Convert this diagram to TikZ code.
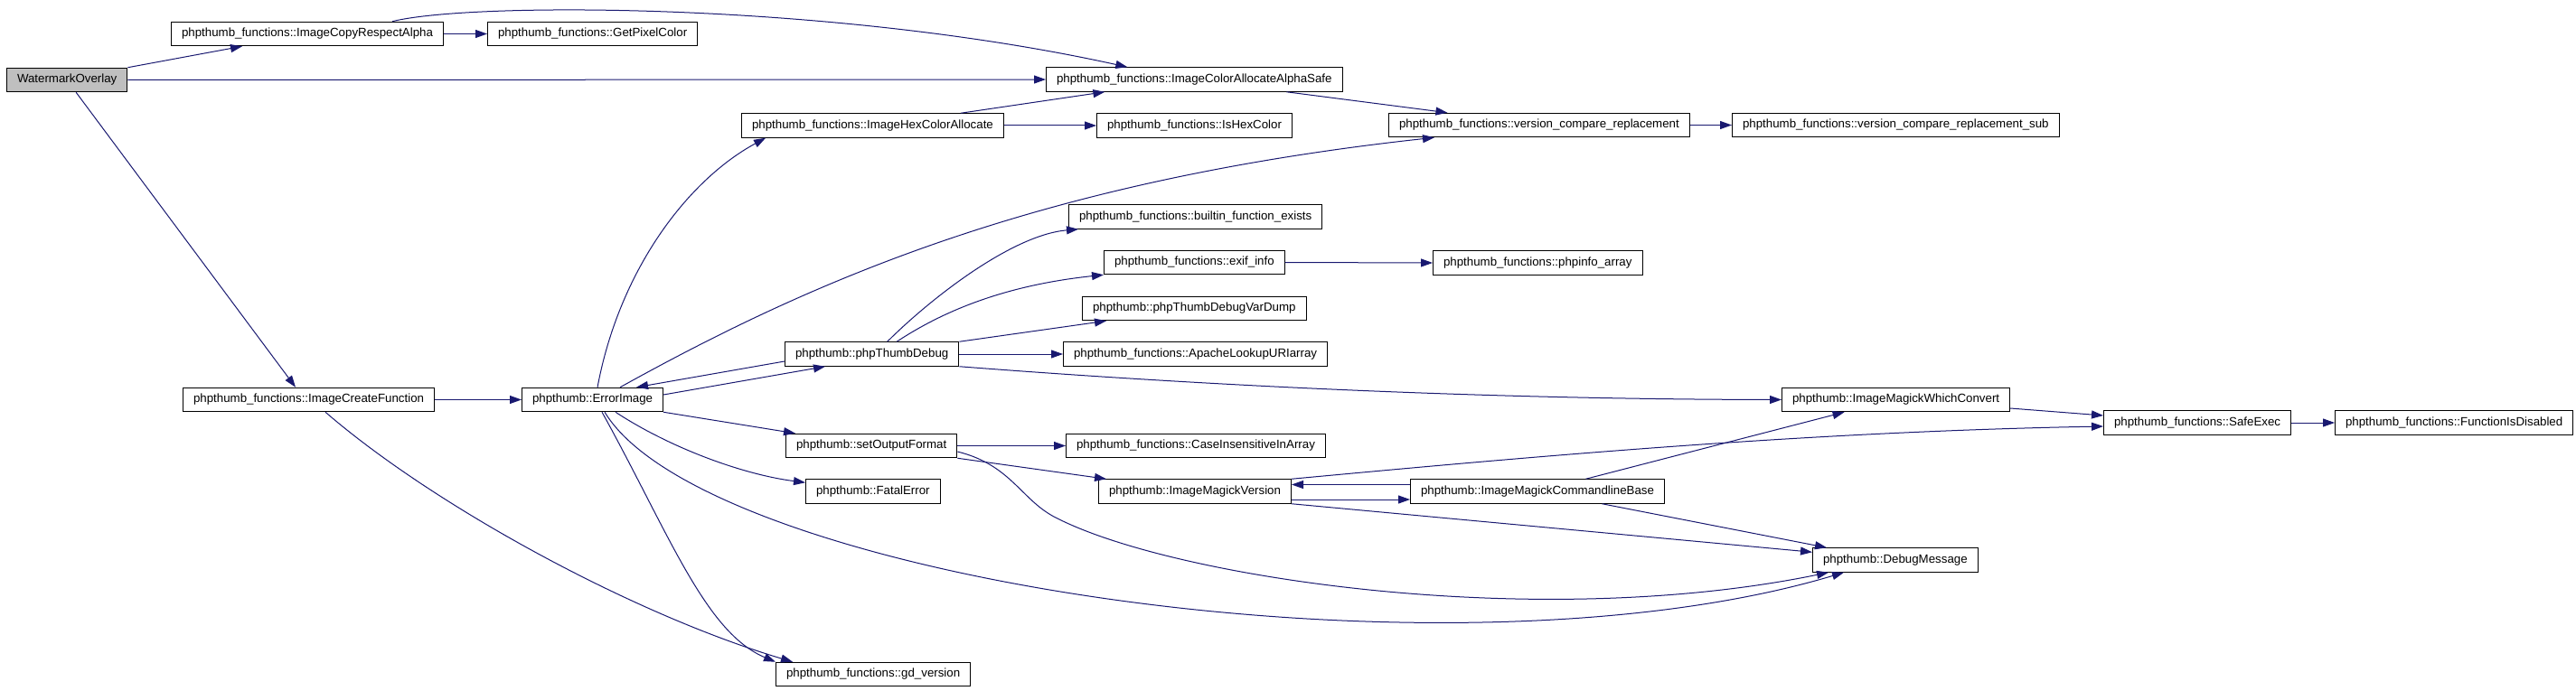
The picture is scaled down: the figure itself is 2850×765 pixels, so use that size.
\documentclass[tikz,border=0pt]{standalone}
\usepackage{fontspec}
\setmainfont{Liberation Sans}
\usetikzlibrary{arrows.meta}
\definecolor{navy}{HTML}{191970}
\definecolor{litgray}{HTML}{BFBFBF}

\begin{document}
\begin{tikzpicture}[x=1pt, y=-1pt, >={Triangle[length=13pt, width=9pt]},
  fn/.style={draw=black, line width=1pt, fill=white, anchor=west, inner xsep=11.5pt,
    inner ysep=0pt, minimum height=26.5pt, font=\fontsize{13.3}{16}\selectfont},
  call/.style={navy, line width=1pt, ->}]

\useasboundingbox (0,0) rectangle (2850,765);

% Functions
\node[fn, fill=litgray] (wo) at (7,88.5) {WatermarkOverlay};
\node[fn] (icra) at (189,37.5) {phpthumb\_functions::ImageCopyRespectAlpha};
\node[fn] (gpc) at (539,37.5) {phpthumb\_functions::GetPixelColor};
\node[fn] (icaas) at (1157,88) {phpthumb\_functions::ImageColorAllocateAlphaSafe};
\node[fn] (ihca) at (820,139) {phpthumb\_functions::ImageHexColorAllocate};
\node[fn] (ihc) at (1213,139) {phpthumb\_functions::IsHexColor};
\node[fn] (vcr) at (1536,138.5) {phpthumb\_functions::version\_compare\_replacement};
\node[fn] (vcrs) at (1916,138.5) {phpthumb\_functions::version\_compare\_replacement\_sub};
\node[fn] (bfe) at (1182,240) {phpthumb\_functions::builtin\_function\_exists};
\node[fn] (exif) at (1221,290.5) {phpthumb\_functions::exif\_info};
\node[fn] (pia) at (1585,291) {phpthumb\_functions::phpinfo\_array};
\node[fn] (vd) at (1197,341.5) {phpthumb::phpThumbDebugVarDump};
\node[fn] (ptd) at (868,392) {phpthumb::phpThumbDebug};
\node[fn] (alu) at (1176,392) {phpthumb\_functions::ApacheLookupURIarray};
\node[fn] (icf) at (202,442.5) {phpthumb\_functions::ImageCreateFunction};
\node[fn] (ei) at (577,442.5) {phpthumb::ErrorImage};
\node[fn] (imwc) at (1971,442.5) {phpthumb::ImageMagickWhichConvert};
\node[fn] (se) at (2327,468) {phpthumb\_functions::SafeExec};
\node[fn] (fid) at (2583,468) {phpthumb\_functions::FunctionIsDisabled};
\node[fn] (sof) at (869,493.5) {phpthumb::setOutputFormat};
\node[fn] (ciia) at (1179,493.5) {phpthumb\_functions::CaseInsensitiveInArray};
\node[fn] (fe) at (891,544) {phpthumb::FatalError};
\node[fn] (imv) at (1215,544) {phpthumb::ImageMagickVersion};
\node[fn] (imcb) at (1560,544) {phpthumb::ImageMagickCommandlineBase};
\node[fn] (dm) at (2005,620) {phpthumb::DebugMessage};
\node[fn] (gd) at (858,746.5) {phpthumb\_functions::gd\_version};

% Calls from WatermarkOverlay
\draw[call] (wo.north east) -- ([xshift=79pt]icra.south west);
\draw[call] (wo.east) -- (icaas.west);
\draw[call] ([xshift=10pt]wo.south) -- ([xshift=-14.5pt]icf.north);

% Top rows
\draw[call] (icra.east) -- (gpc.west);
\draw[call] ([xshift=94pt]icra.north) .. controls (520,2) and (920,2) .. ([xshift=-74pt]icaas.north);
\draw[call] ([xshift=102pt]icaas.south) -- ([xshift=-101.5pt]vcr.north);
\draw[call] ([xshift=97.5pt]ihca.north) -- ([xshift=-99pt]icaas.south);
\draw[call] (ihca.east) -- (ihc.west);
\draw[call] (vcr.east) -- (vcrs.west);

% ErrorImage
\draw[call] (icf.east) -- (ei.west);
\draw[call] ([xshift=5.5pt]ei.north) .. controls (685,300) and (760,200) .. ([xshift=27pt]ihca.south west);
\draw[call] ([xshift=30.5pt]ei.north) .. controls (900,310) and (1150,200) .. ([xshift=51pt]vcr.south west);
\draw[call] ([yshift=-8pt]ptd.west) -- ([xshift=48.5pt]ei.north);
\draw[call] ([yshift=5.5pt]ei.east) -- ([xshift=45pt]ptd.south west);
\draw[call] (ei.south east) -- ([xshift=11pt]sof.north west);
\draw[call] ([xshift=25.5pt]ei.south) .. controls (740,495) and (820,525) .. ([yshift=-4pt]fe.north west);
\draw[call] ([xshift=10.5pt]ei.south) .. controls (740,590) and (780,700) .. (gd.north west);
\draw[call] ([xshift=18.5pt]icf.south) .. controls (480,560) and (700,680) .. ([xshift=19pt]gd.north west);
\draw[call] ([xshift=13.5pt]ei.south) .. controls (780,640) and (1600,765) .. ([xshift=35pt]dm.south west);

% phpThumbDebug
\draw[call] ([xshift=17pt]ptd.north) .. controls (1030,330) and (1120,260) .. ([xshift=11pt]bfe.south west);
\draw[call] ([xshift=27.5pt]ptd.north) .. controls (1050,340) and (1120,315) .. (exif.south west);
\draw[call] (ptd.north east) -- ([xshift=27pt]vd.south west);
\draw[call] (ptd.east) -- (alu.west);
\draw[call] (ptd.south east) .. controls (1400,432) and (1700,442) .. (imwc.west);
\draw[call] (exif.east) -- (pia.west);

% setOutputFormat
\draw[call] (sof.east) -- (ciia.west);
\draw[call] (sof.south east) -- ([xshift=9pt]imv.north west);
\draw[call] ([yshift=-6.5pt]sof.east) .. controls (1120,515) and (1130,555) .. (1170,574)
  .. controls (1300,640) and (1700,700) .. ([xshift=18pt]dm.south west);

% ImageMagick
\draw[call] ([yshift=-9pt]imv.east) -- ([yshift=-9pt]imcb.west);
\draw[call] ([yshift=7.5pt]imcb.west) -- ([yshift=7.5pt]imv.east);
\draw[call] (imv.north east) .. controls (1700,505) and (2000,478) .. ([yshift=-4pt]se.west);
\draw[call] (imv.south east) -- ([yshift=-5pt]dm.north west);
\draw[call] ([xshift=53.5pt]imcb.north) -- ([xshift=-57pt]imwc.south);
\draw[call] ([xshift=71.5pt]imcb.south) -- ([xshift=16pt]dm.north west);
\draw[call] ([yshift=-9.5pt]imwc.east) -- ([yshift=8pt]se.west);
\draw[call] (se.east) -- (fid.west);

\end{tikzpicture}
\end{document}
